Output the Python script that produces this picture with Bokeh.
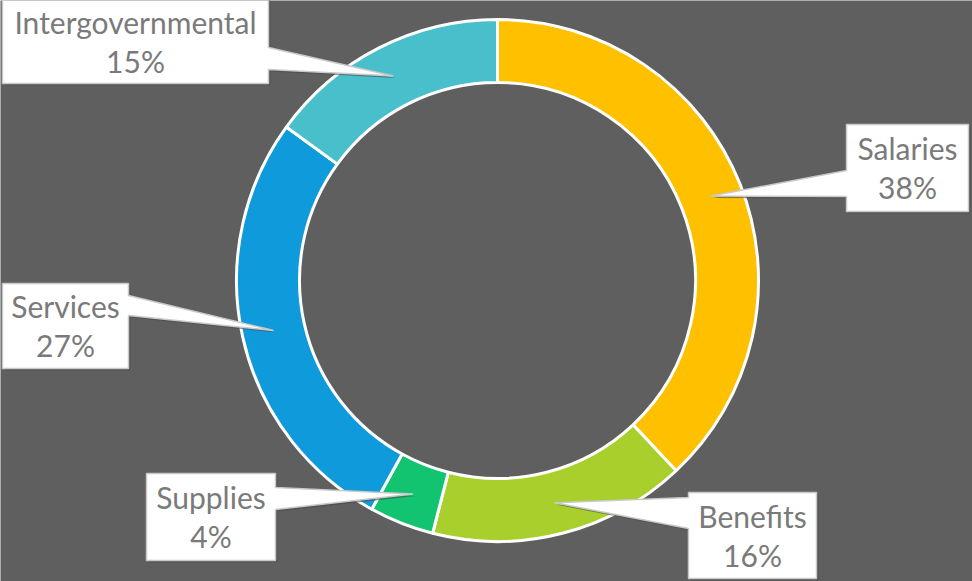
import math
from bokeh.plotting import figure
from bokeh.models import Range1d, ColumnDataSource
from bokeh.embed import file_html
from bokeh.resources import INLINE
from bokeh.core.properties import value

# ---- data ----
categories = ["Salaries", "Benefits", "Supplies", "Services", "Intergovernmental"]
shares = [38, 16, 4, 27, 15]
labels_pct = ["38%", "16%", "4%", "27%", "15%"]
colors = ["#FFC000", "#A8CF2C", "#12C46F", "#0E9ADB", "#4ABFCC"]

# ---- layout (pixel coords, y down) ----
W, H = 972, 581
CX, CY = 497, 280
R_OUT, R_IN = 261, 198
# callout boxes: x0, x1, y0, y1, pointer side, pointer base y0, y1
boxes = {
    "Salaries": (846, 968, 124, 211, "left", 170, 196),
    "Benefits": (688, 816, 492, 578, "left", 497, 528),
    "Supplies": (146, 275, 473, 560, "right", 487, 509),
    "Services": (2, 128, 283, 368, "right", 295, 315),
    "Intergovernmental": (2, 268, -4, 83, "right", 47, 69),
}

p = figure(width=W, height=H, output_backend="svg", toolbar_location=None,
           x_range=Range1d(0, W), y_range=Range1d(0, H), min_border=0,
           background_fill_color="#5F5F5F", border_fill_color="#5F5F5F")
p.axis.visible = False
p.grid.visible = False
p.outline_line_color = None

total = sum(shares)
starts, ends, mids = [], [], []
cum = 0.0
for s in shares:
    a0 = math.pi / 2 - 2 * math.pi * cum / total
    cum += s
    a1 = math.pi / 2 - 2 * math.pi * cum / total
    starts.append(a0)
    ends.append(a1)
    mids.append((a0 + a1) / 2)

src = ColumnDataSource(dict(x=[CX] * len(shares), y=[H - CY] * len(shares),
                            start=starts, end=ends, color=colors))
p.annular_wedge(x="x", y="y", inner_radius=R_IN, outer_radius=R_OUT,
                start_angle="start", end_angle="end", direction="clock",
                fill_color="color", line_color="white", line_width=3, source=src)

# callouts
r_mid = (R_IN + R_OUT) / 2
xs, ys, sxs, sys_ = [], [], [], []
tx, ty, tt = [], [], []
for cat, pct, m in zip(categories, labels_pct, mids):
    tipx = CX + r_mid * math.cos(m)
    tipy = CY - r_mid * math.sin(m)
    x0, x1, y0, y1, side, b0, b1 = boxes[cat]
    if side == "right":
        pts = [(x0, y0), (x1, y0), (x1, b0), (tipx, tipy), (x1, b1), (x1, y1), (x0, y1)]
    else:
        pts = [(x0, y0), (x1, y0), (x1, y1), (x0, y1), (x0, b1), (tipx, tipy), (x0, b0)]
    xs.append([q[0] for q in pts])
    ys.append([H - q[1] for q in pts])
    sxs.append([q[0] + 2 for q in pts])
    sys_.append([H - q[1] - 2 for q in pts])
    cxm = (x0 + x1) / 2
    cym = (max(y0, 0) + y1) / 2 if y0 < 0 else (y0 + y1) / 2
    tx += [cxm, cxm]
    ty += [H - (cym - 20), H - (cym + 19)]
    tt += [cat, pct]

p.patches(xs=sxs, ys=sys_, fill_color="#4a4a4a", fill_alpha=0.6, line_color=None)
p.patches(xs=xs, ys=ys, fill_color="white", line_color="#C9C9C9", line_width=1.5)
p.text(x=tx, y=ty, text=tt, text_align="center", text_baseline="middle",
       text_font=value("Lato"), text_font_size="30px", text_color="#7A7A7A")

open("out.html", "w").write(file_html(p, INLINE))
